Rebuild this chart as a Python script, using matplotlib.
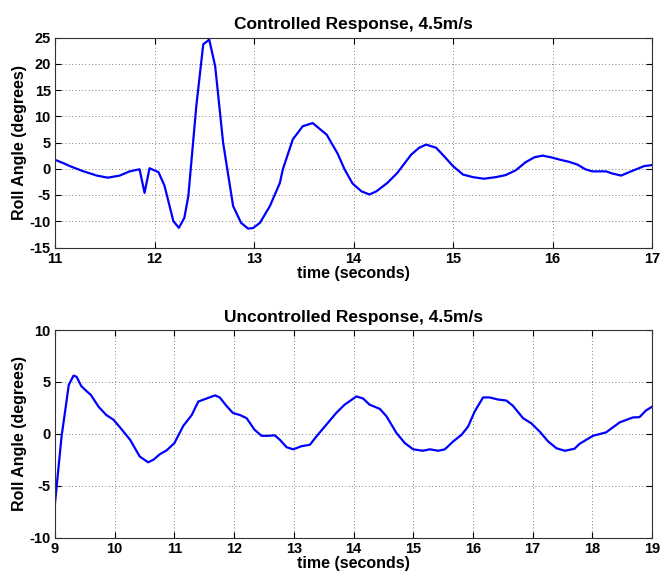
import matplotlib
matplotlib.use("Agg")
import matplotlib.pyplot as plt
from matplotlib import font_manager

# ---- data: controlled response ----
t_ctrl = [11.00, 11.08, 11.15, 11.28, 11.42, 11.53, 11.65, 11.75, 11.85, 11.90, 11.95,
          12.04, 12.10, 12.19, 12.245, 12.30, 12.34, 12.42, 12.49, 12.55, 12.61, 12.69,
          12.79, 12.87, 12.94, 12.99, 13.06, 13.16, 13.26, 13.29, 13.39, 13.49, 13.59,
          13.73, 13.84, 13.91, 13.99, 14.08, 14.16, 14.23, 14.34, 14.44, 14.58, 14.66,
          14.73, 14.83, 14.91, 15.00, 15.10, 15.20, 15.31, 15.43, 15.53, 15.63, 15.73,
          15.82, 15.90, 15.98, 16.07, 16.17, 16.25, 16.33, 16.40, 16.54, 16.60, 16.69,
          16.77, 16.92, 17.00]
v_ctrl = [1.7, 1.1, 0.5, -0.45, -1.3, -1.7, -1.3, -0.5, -0.1, -4.6, 0.1,
          -0.65, -3.2, -10.0, -11.25, -9.35, -5.2, 11.9, 23.7, 24.6, 19.5, 4.9,
          -7.1, -10.3, -11.4, -11.3, -10.3, -7.1, -2.7, -0.1, 5.6, 8.1, 8.7,
          6.5, 2.9, -0.1, -2.8, -4.3, -4.9, -4.3, -2.7, -0.8, 2.7, 4.0,
          4.6, 4.0, 2.4, 0.5, -1.1, -1.6, -1.9, -1.6, -1.2, -0.3, 1.25,
          2.2, 2.5, 2.2, 1.75, 1.3, 0.8, -0.1, -0.5, -0.5, -0.9, -1.3,
          -0.65, 0.5, 0.7]

# ---- data: uncontrolled response ----
t_unc = [9.00, 9.11, 9.18, 9.23, 9.31, 9.36, 9.44, 9.53, 9.60, 9.73, 9.86, 9.98,
         10.12, 10.26, 10.42, 10.56, 10.65, 10.76, 10.87, 11.00, 11.15, 11.29, 11.40,
         11.54, 11.68, 11.76, 11.87, 11.98, 12.10, 12.21, 12.34, 12.46, 12.57, 12.68,
         12.77, 12.88, 12.99, 13.13, 13.27, 13.38, 13.52, 13.71, 13.85, 14.05, 14.16,
         14.27, 14.44, 14.55, 14.72, 14.86, 15.00, 15.16, 15.28, 15.42, 15.53, 15.67,
         15.81, 15.92, 16.03, 16.17, 16.28, 16.42, 16.56, 16.67, 16.84, 16.98, 17.12,
         17.26, 17.40, 17.54, 17.70, 17.79, 18.01, 18.23, 18.46, 18.68, 18.79, 18.90,
         19.00]
v_unc = [-6.7, -0.25, 2.6, 4.7, 5.6, 5.5, 4.6, 4.1, 3.75, 2.6, 1.8, 1.35,
         0.4, -0.6, -2.2, -2.75, -2.5, -1.96, -1.6, -0.9, 0.77, 1.8, 3.1,
         3.4, 3.7, 3.5, 2.7, 2.0, 1.8, 1.5, 0.4, -0.2, -0.2, -0.15,
         -0.6, -1.3, -1.5, -1.2, -1.06, -0.25, 0.7, 2.0, 2.8, 3.6, 3.4,
         2.8, 2.4, 1.7, 0.07, -0.9, -1.5, -1.64, -1.5, -1.64, -1.5, -0.74,
         -0.1, 0.7, 2.15, 3.5, 3.5, 3.3, 3.2, 2.7, 1.5, 1.0, 0.2,
         -0.74, -1.4, -1.64, -1.45, -0.96, -0.2, 0.13, 1.1, 1.57, 1.6, 2.25,
         2.6]

titles = ["Controlled Response, 4.5m/s", "Uncontrolled Response, 4.5m/s"]
xlabel = "time (seconds)"
ylabel = "Roll Angle (degrees)"
xticks_ctrl = list(range(11, 18))
yticks_ctrl = list(range(-15, 30, 5))
xticks_unc = list(range(9, 20))
yticks_unc = [-10, -5, 0, 5, 10]

avail = {f.name for f in font_manager.fontManager.ttflist}
fam = [f for f in ["Liberation Sans Narrow", "Liberation Sans", "DejaVu Sans"] if f in avail]
plt.rcParams['font.family'] = fam
plt.rcParams['font.weight'] = 'bold'

fig = plt.figure(figsize=(6.6, 5.73), dpi=100)
W, H = 660, 573

def make_ax(left, right, top, bottom):
    return fig.add_axes([left / W, 1 - bottom / H, (right - left) / W, (bottom - top) / H])

ax1 = make_ax(55, 652, 37.5, 247.5)
ax2 = make_ax(55, 652, 330, 537.5)

def style(ax, t, v, xt, yt, title):
    ax.plot(t, v, color=(0, 0, 1), lw=1.6)
    ax.set_xlim(xt[0], xt[-1])
    ax.set_ylim(yt[0], yt[-1])
    ax.set_xticks(xt)
    ax.set_yticks(yt)
    ax.set_xticklabels([str(x) for x in xt], fontsize=10.5, fontweight='bold')
    ax.set_yticklabels([str(y) for y in yt], fontsize=10.5, fontweight='bold')
    ax.tick_params(direction='in', top=True, right=True, length=4, width=0.8, pad=3)
    ax.grid(True, color='#555555', linestyle=(0, (1, 3)), linewidth=0.6)
    for s in ax.spines.values():
        s.set_linewidth(0.8)
        s.set_color('#333333')
    ax.set_title(title, fontsize=12.5, fontweight='bold', pad=6)
    ax.set_xlabel(xlabel, fontsize=11.5, fontweight='bold', labelpad=0)
    ax.set_ylabel(ylabel, fontsize=11.5, fontweight='bold', labelpad=2)

style(ax1, t_ctrl, v_ctrl, xticks_ctrl, yticks_ctrl, titles[0])
style(ax2, t_unc, v_unc, xticks_unc, yticks_unc, titles[1])

fig.savefig("out.png", dpi=100)
